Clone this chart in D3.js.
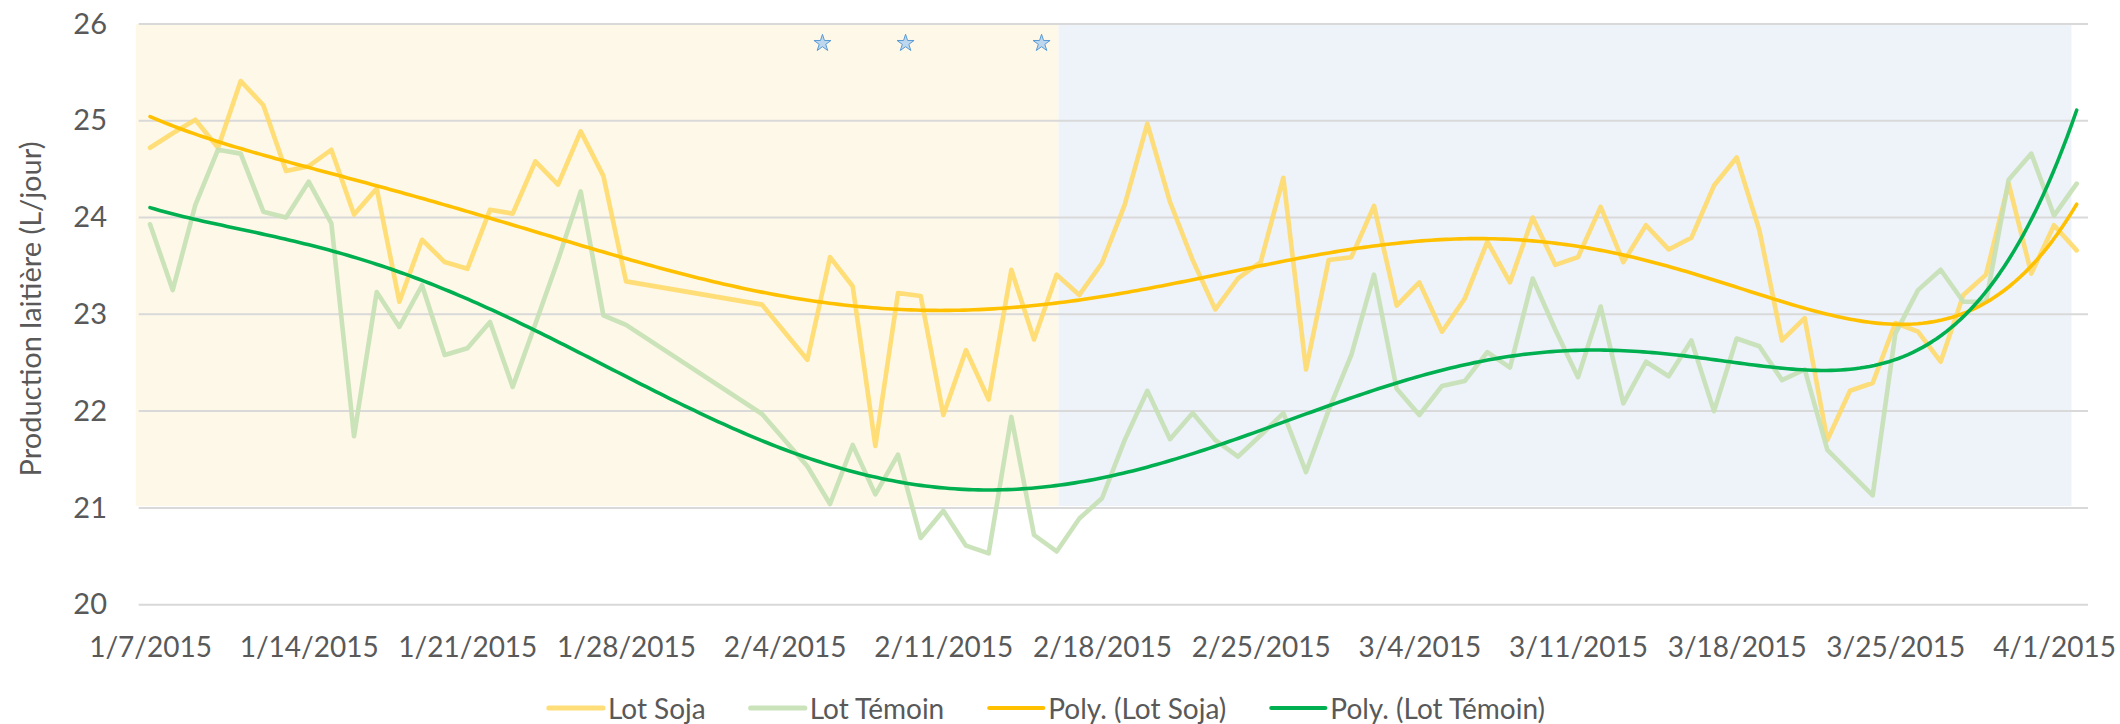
<!DOCTYPE html>
<html>
<head>
<meta charset="utf-8">
<script src="https://cdn.jsdelivr.net/npm/d3@7"></script>
<style>
  body { margin: 0; background: #fff; }
  text { font-family: Lato, "Open Sans", sans-serif; fill: #595959; }
</style>
</head>
<body>
<div id="chart"></div>
<script>
const WIDTH = 2120;
const HEIGHT = 724;

// dates present in the sheet (1/29-2/2 and 2/4 are missing)
const dates = [
  "1/7/2015","1/8/2015","1/9/2015","1/10/2015","1/11/2015","1/12/2015","1/13/2015","1/14/2015",
  "1/15/2015","1/16/2015","1/17/2015","1/18/2015","1/19/2015","1/20/2015","1/21/2015","1/22/2015",
  "1/23/2015","1/24/2015","1/25/2015","1/26/2015","1/27/2015","1/28/2015","2/3/2015",
  "2/5/2015","2/6/2015","2/7/2015","2/8/2015","2/9/2015","2/10/2015","2/11/2015","2/12/2015",
  "2/13/2015","2/14/2015","2/15/2015","2/16/2015","2/17/2015","2/18/2015","2/19/2015","2/20/2015",
  "2/21/2015","2/22/2015","2/23/2015","2/24/2015","2/25/2015","2/26/2015","2/27/2015","2/28/2015",
  "3/1/2015","3/2/2015","3/3/2015","3/4/2015","3/5/2015","3/6/2015","3/7/2015","3/8/2015",
  "3/9/2015","3/10/2015","3/11/2015","3/12/2015","3/13/2015","3/14/2015","3/15/2015","3/16/2015",
  "3/17/2015","3/18/2015","3/19/2015","3/20/2015","3/21/2015","3/22/2015","3/23/2015","3/24/2015",
  "3/25/2015","3/26/2015","3/27/2015","3/28/2015","3/29/2015","3/30/2015","3/31/2015","4/1/2015",
  "4/2/2015"
];

const lotSoja = [
  24.72, 24.87, 25.01, 24.72, 25.41, 25.16, 24.48, 24.53,
  24.70, 24.03, 24.30, 23.13, 23.77, 23.54, 23.47, 24.08,
  24.04, 24.58, 24.34, 24.89, 24.43, 23.34, 23.10,
  22.53, 23.59, 23.29, 21.64, 23.22, 23.19, 21.96, 22.63,
  22.12, 23.46, 22.74, 23.41, 23.20, 23.53, 24.13, 24.97,
  24.16, 23.56, 23.05, 23.37, 23.54, 24.41, 22.43, 23.56,
  23.59, 24.12, 23.09, 23.33, 22.82, 23.16, 23.75, 23.33,
  24.00, 23.51, 23.59, 24.11, 23.54, 23.92, 23.67, 23.79,
  24.33, 24.62, 23.87, 22.73, 22.96, 21.70, 22.21, 22.29,
  22.91, 22.82, 22.51, 23.20, 23.41, 24.35, 23.42, 23.92,
  23.66
];

const lotTemoin = [
  23.93, 23.25, 24.13, 24.70, 24.66, 24.06, 24.00, 24.37,
  23.94, 21.74, 23.23, 22.87, 23.30, 22.58, 22.65, 22.92,
  22.25, 22.90, 23.56, 24.27, 22.99, 22.89, 21.97,
  21.43, 21.04, 21.65, 21.14, 21.55, 20.69, 20.97, 20.61,
  20.53, 21.94, 20.72, 20.55, 20.89, 21.10, 21.70, 22.21,
  21.71, 21.98, 21.70, 21.53, 21.75, 21.98, 21.37, 22.01,
  22.58, 23.41, 22.23, 21.96, 22.26, 22.31, 22.61, 22.45,
  23.37, 22.84, 22.35, 23.08, 22.08, 22.51, 22.36, 22.73,
  22.00, 22.75, 22.67, 22.32, 22.43, 21.60, null, 21.13,
  22.80, 23.25, 23.46, 23.13, 23.13, 24.39, 24.66, 24.02,
  24.35
];

const seriesNames = ["Lot Soja", "Lot Témoin", "Poly. (Lot Soja)", "Poly. (Lot Témoin)"];
const yTicks = [20, 21, 22, 23, 24, 25, 26];
const xTickLabels = ["1/7/2015","1/14/2015","1/21/2015","1/28/2015","2/4/2015","2/11/2015","2/18/2015",
                     "2/25/2015","3/4/2015","3/11/2015","3/18/2015","3/25/2015","4/1/2015"];
// background periods (before / after the switch)
const periodBounds = ["1/6/2015 09:00", "2/16/2015 02:00", "4/1/2015 18:30"];
const periodTop = 26;
const periodBottom = 21.02;
// star markers
const starDates = ["2/5/2015 16:00", "2/9/2015 08:00", "2/15/2015 08:00"];
const starLevel = 25.8;
const POLY_ORDER = 6;

const parseDay = d3.utcParse("%m/%d/%Y");
const parseTime = d3.utcParse("%m/%d/%Y %H:%M");

const svg = d3.select("#chart").append("svg")
    .attr("width", WIDTH)
    .attr("height", HEIGHT);

const X_SCALE = d3.scaleUtc()
    .domain([parseTime("1/6/2015 12:00"), parseTime("4/2/2015 12:00")])
    .range([138.7, 2088]);

const Y_SCALE = d3.scaleLinear()
    .domain([20, 26])
    .range([604.7, 23.9]);

// background bands
const bandColors = ["#fef8e8", "#eef2f9"];
svg.selectAll(".band")
  .data(d3.pairs(periodBounds))
  .enter().append("rect")
    .attr("class", "band")
    .attr("x", d => X_SCALE(parseTime(d[0])))
    .attr("width", d => X_SCALE(parseTime(d[1])) - X_SCALE(parseTime(d[0])))
    .attr("y", Y_SCALE(periodTop))
    .attr("height", Y_SCALE(periodBottom) - Y_SCALE(periodTop))
    .attr("fill", (d, i) => bandColors[i]);

// gridlines
svg.append("g")
  .selectAll("line")
  .data(yTicks)
  .enter().append("line")
    .attr("x1", X_SCALE.range()[0])
    .attr("x2", X_SCALE.range()[1])
    .attr("y1", d => Y_SCALE(d))
    .attr("y2", d => Y_SCALE(d))
    .attr("stroke", "#d9d9d9")
    .attr("stroke-width", 2);

// y axis labels
const yAxis = svg.append("g")
    .attr("transform", "translate(" + 107 + ",0)")
    .call(d3.axisLeft(Y_SCALE).tickValues(yTicks).tickFormat(d3.format("d")).tickSize(0).tickPadding(0));
yAxis.select(".domain").remove();
yAxis.selectAll("text")
    .attr("font-size", "29px")
    .attr("font-family", null)
    .style("fill", "#595959");

// x axis labels
const xAxis = svg.append("g")
    .attr("transform", "translate(0," + Y_SCALE(20) + ")")
    .call(d3.axisBottom(X_SCALE)
            .tickValues(xTickLabels.map(parseDay))
            .tickFormat(d3.utcFormat("%-m/%-d/%Y"))
            .tickSize(0)
            .tickPadding(32));
xAxis.select(".domain").remove();
xAxis.selectAll("text")
    .attr("font-size", "28px")
    .attr("font-family", null)
    .style("fill", "#595959");

// y axis title
svg.append("text")
    .attr("transform", "translate(29," + 309 + ") rotate(-90)")
    .attr("text-anchor", "middle")
    .attr("dominant-baseline", "central")
    .attr("font-size", "29px")
    .text("Production laitière (L/jour)");

// series points
function points(values) {
  return dates.map((d, i) => ({date: parseDay(d), value: values[i]}))
              .filter(p => p.value !== null);
}
const sojaPts = points(lotSoja);
const temoinPts = points(lotTemoin);

// least squares polynomial trendline (like Excel's Poly.)
const t0 = parseDay(dates[0]).getTime();
const tSpan = parseDay(dates[dates.length - 1]).getTime() - t0;
const toT = (dt) => 2 * (dt.getTime() - t0) / tSpan - 1;

function polyFit(pts, order) {
  const n = order + 1;
  const A = Array.from({length: n}, () => new Array(n + 1).fill(0));
  pts.forEach(p => {
    const t = toT(p.date);
    for (let i = 0; i < n; i++) {
      for (let j = 0; j < n; j++) A[i][j] += Math.pow(t, i + j);
      A[i][n] += p.value * Math.pow(t, i);
    }
  });
  for (let c = 0; c < n; c++) {
    let piv = c;
    for (let r = c + 1; r < n; r++) if (Math.abs(A[r][c]) > Math.abs(A[piv][c])) piv = r;
    [A[c], A[piv]] = [A[piv], A[c]];
    for (let r = 0; r < n; r++) {
      if (r === c) continue;
      const f = A[r][c] / A[c][c];
      for (let k = c; k <= n; k++) A[r][k] -= f * A[c][k];
    }
  }
  return A.map((row, i) => row[n] / row[i]);
}

function trend(pts) {
  const coef = polyFit(pts, POLY_ORDER);
  const out = [];
  for (let k = 0; k <= 400; k++) {
    const dt = new Date(t0 + tSpan * k / 400);
    const t = toT(dt);
    let v = 0;
    coef.forEach((c, i) => { v += c * Math.pow(t, i); });
    out.push({date: dt, value: v});
  }
  return out;
}

const line = d3.line()
    .x(d => X_SCALE(d.date))
    .y(d => Y_SCALE(d.value));

const SERIES = [
  {pts: sojaPts, color: "#ffd966", width: 4.6, opacity: 0.88},
  {pts: temoinPts, color: "#c5e0b4", width: 4.6, opacity: 0.9},
  {pts: trend(sojaPts), color: "#ffc000", width: 3.6, opacity: 1},
  {pts: trend(temoinPts), color: "#00b050", width: 3.6, opacity: 1}
];

svg.selectAll(".series")
  .data(SERIES)
  .enter().append("path")
    .attr("class", "series")
    .attr("d", d => line(d.pts))
    .attr("fill", "none")
    .attr("stroke", d => d.color)
    .attr("stroke-width", d => d.width)
    .attr("stroke-opacity", d => d.opacity)
    .attr("stroke-linejoin", "round")
    .attr("stroke-linecap", "round");

// stars
svg.selectAll(".star")
  .data(starDates)
  .enter().append("path")
    .attr("class", "star")
    .attr("transform", d => "translate(" + X_SCALE(parseTime(d)) + "," + Y_SCALE(starLevel) + ")")
    .attr("d", d3.symbol().type(d3.symbolStar).size(90))
    .attr("fill", "#bdd7ee")
    .attr("stroke", "#5b9bd5")
    .attr("stroke-width", 1);

// legend
const legend = svg.append("g");
let lx = 0;
seriesNames.forEach((name, i) => {
  const g = legend.append("g");
  g.append("line")
    .attr("x1", 0).attr("x2", 54)
    .attr("stroke", SERIES[i].color)
    .attr("stroke-width", SERIES[i].width + 0.6)
    .attr("stroke-opacity", SERIES[i].opacity)
    .attr("stroke-linecap", "round");
  const txt = g.append("text")
    .attr("x", 59)
    .attr("dominant-baseline", "central")
    .attr("font-size", "28px")
    .text(name);
  const w = 59 + txt.node().getComputedTextLength();
  g.attr("transform", "translate(" + lx + ",0)");
  lx += w + 45;
});
const legendW = lx - 45;
legend.attr("transform", "translate(" + (1047 - legendW / 2) + ",708)");
</script>
</body>
</html>
